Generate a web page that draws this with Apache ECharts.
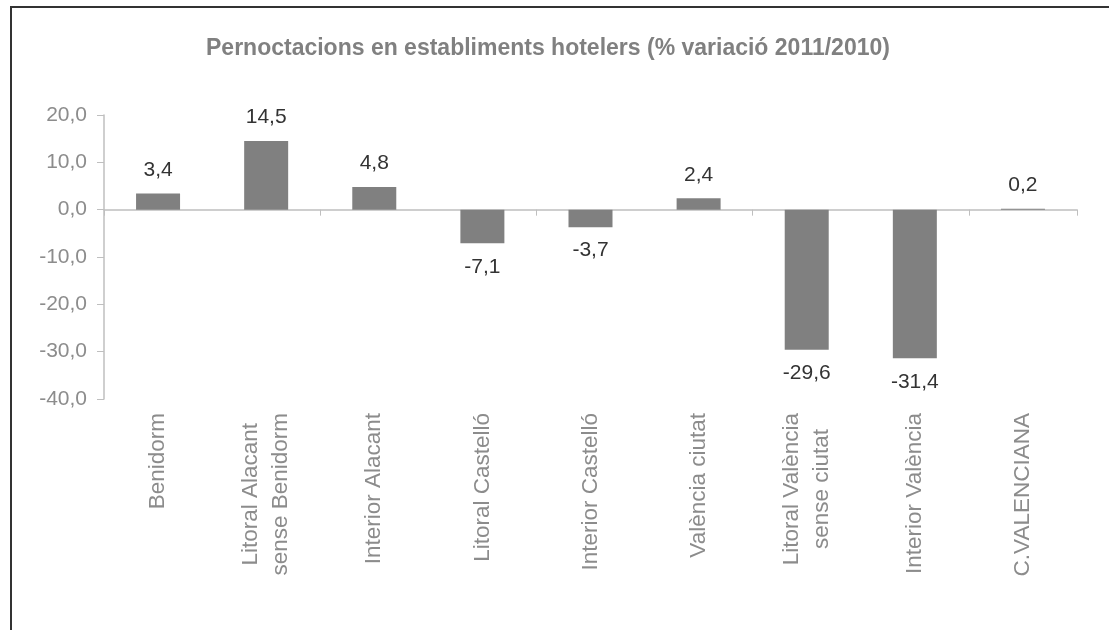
<!DOCTYPE html>
<html>
<head>
<meta charset="utf-8">
<script src="https://cdn.jsdelivr.net/npm/echarts@6/dist/echarts.min.js"></script>
<style>
  html, body { margin: 0; padding: 0; background: #fff; }
  #frame { position: absolute; left: 10px; top: 6px; width: 1200px; height: 700px;
           border-left: 2px solid #333; border-top: 2px solid #333; }
  #chart { position: absolute; left: 0; top: 0; width: 1109px; height: 630px; }
</style>
</head>
<body>
<div id="frame"></div>
<div id="chart"></div>
<script>
// categorias y valores (% variació 2011/2010)
var categories = ['Benidorm', 'Litoral Alacant\nsense Benidorm', 'Interior Alacant', 'Litoral Castelló',
    'Interior Castelló', 'València ciutat', 'Litoral València\nsense ciutat', 'Interior València', 'C.VALENCIANA'];
var values = [3.4, 14.5, 4.8, -7.1, -3.7, 2.4, -29.6, -31.4, 0.2];
var yTicks = [-40, -30, -20, -10, 0, 10, 20];

var chartTitle = 'Pernoctacions en establiments hotelers (% variació 2011/2010)';
var labelGray = '#8c8c8c';
var axisGray = '#bfbfbf';

function fmt(v) {
    return v.toFixed(1).replace('.', ',');
}

var barData = [];
for (var i = 0; i < values.length; i++) {
    barData.push({
        value: values[i],
        label: { position: values[i] >= 0 ? 'top' : 'bottom' }
    });
}

var myChart = echarts.init(document.getElementById('chart'));
var option = {
    animation: false,
    backgroundColor: 'transparent',
    title: {
        text: chartTitle,
        left: 201,
        top: 32,
        textStyle: { color: '#808080', fontSize: 23, fontWeight: 'bold', fontFamily: 'Liberation Sans' }
    },
    grid: { left: 104, right: 32, top: 115, bottom: 231 },
    xAxis: [
        {
            type: 'category',
            data: categories,
            axisLine: { onZero: true, lineStyle: { color: axisGray, width: 1.5 } },
            axisTick: { show: true, length: 6, lineStyle: { color: axisGray } },
            axisLabel: { show: false }
        },
        {
            type: 'category',
            data: categories,
            position: 'bottom',
            axisLine: { show: false, onZero: false },
            axisTick: { show: false },
            axisLabel: {
                rotate: 90,
                margin: 14,
                interval: 0,
                color: labelGray,
                fontSize: 22.5,
                fontFamily: 'Liberation Sans',
                lineHeight: 30,
                formatter: function (v) {
                    return v.split('\n').map(function (s) { return '{c|' + s + '}'; }).join('\n');
                },
                rich: { c: { align: 'center', color: labelGray, fontSize: 22.5, fontFamily: 'Liberation Sans', lineHeight: 30 } }
            }
        }
    ],
    yAxis: {
        type: 'value',
        min: yTicks[0],
        max: yTicks[yTicks.length - 1],
        interval: 10,
        axisLine: { show: true, lineStyle: { color: axisGray, width: 1.5 } },
        axisTick: { show: true, length: 7, lineStyle: { color: axisGray } },
        splitLine: { show: false },
        axisLabel: {
            margin: 17,
            color: labelGray,
            fontSize: 21,
            fontFamily: 'Liberation Sans',
            formatter: function (v) { return fmt(v); }
        }
    },
    series: [
        {
            type: 'bar',
            xAxisIndex: 0,
            data: barData,
            barWidth: 44,
            itemStyle: { color: '#808080' },
            label: {
                show: true,
                distance: 13,
                color: '#333',
                fontSize: 21,
                fontFamily: 'Liberation Sans',
                formatter: function (p) { return fmt(p.value); }
            }
        }
    ]
};
myChart.setOption(option);
</script>
</body>
</html>
